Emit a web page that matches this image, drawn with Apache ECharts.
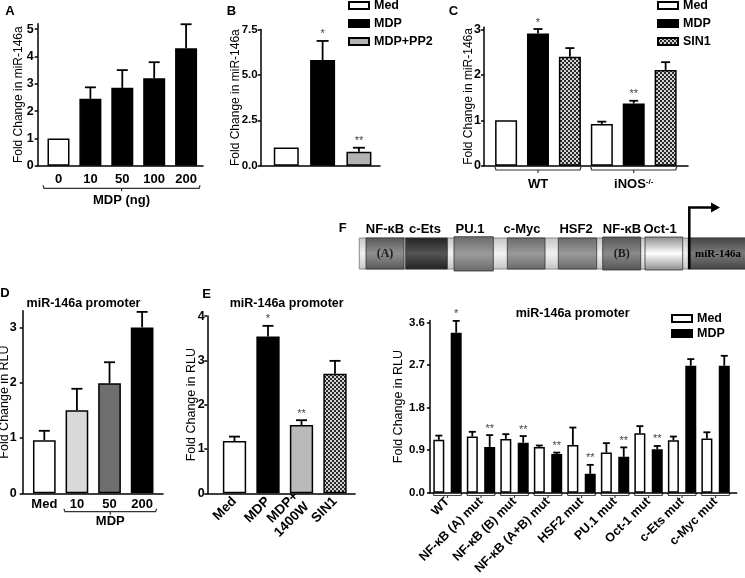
<!DOCTYPE html>
<html><head><meta charset="utf-8">
<script src="https://cdn.jsdelivr.net/npm/echarts@6/dist/echarts.min.js"></script>
<style>html,body{margin:0;padding:0;background:#fff}#c{width:745px;height:578px}</style>
</head><body><div id="c"></div>
<script>
const FONT = '"Liberation Sans", Arial, Helvetica, sans-serif';
const SERIF = '"Liberation Serif", "Times New Roman", serif';

// ---------- DATA ----------
// Panel A
const aCategories = ['0', '10', '50', '100', '200'];
const aValues = [1.0, 2.45, 2.85, 3.2, 4.3];
const aErrors = [0, 0.42, 0.65, 0.59, 0.88];
const aGroupLabel = 'MDP (ng)';
const aYTicks = [0, 1, 2, 3, 4, 5];
// Panel B
const bNames = ['Med', 'MDP', 'MDP+PP2'];
const bValues = [1.0, 5.82, 0.77];
const bErrors = [0, 1.05, 0.22];
const bStars = ['', '*', '**'];
const bYTicks = [0, 2.5, 5, 7.5];
// Panel C
const cGroups = ['WT', 'iNOS'];
const cGroupSup = ['', '-/-'];
const cNames = ['Med', 'MDP', 'SIN1'];
const cMed = [1.0, 0.92];
const cMedErr = [0, 0.05];
const cMDP = [2.91, 1.37];
const cMDPErr = [0.10, 0.06];
const cMDPStars = ['*', '**'];
const cSIN1 = [2.40, 2.11];
const cSIN1Err = [0.19, 0.17];
const cYTicks = [0, 1, 2, 3];
// Panel D
const dCategories = ['Med', '10', '50', '200'];
const dValues = [0.96, 1.50, 1.99, 3.00];
const dErrors = [0.17, 0.39, 0.38, 0.28];
const dGroupLabel = 'MDP';
const dYTicks = [0, 1, 2, 3];
// Panel E
const eCategories = ['Med', 'MDP', 'MDP+\n1400W', 'SIN1'];
const eValues = [1.18, 3.54, 1.54, 2.70];
const eErrors = [0.10, 0.24, 0.11, 0.29];
const eStars = ['', '*', '**', ''];
const eYTicks = [0, 1, 2, 3, 4];
// Panel F
const fCategories = ['WT', 'NF-κB (A) mut', 'NF-κB (B) mut', 'NF-κB (A+B) mut', 'HSF2 mut', 'PU.1 mut', 'Oct-1 mut', 'c-Ets mut', 'c-Myc mut'];
const fNames = ['Med', 'MDP'];
const fMed = [1.12, 1.19, 1.14, 0.97, 1.01, 0.85, 1.26, 1.11, 1.15];
const fMedErr = [0.09, 0.10, 0.10, 0.03, 0.37, 0.20, 0.15, 0.08, 0.13];
const fMDP = [3.39, 0.97, 1.06, 0.82, 0.40, 0.76, 0.92, 2.69, 2.69];
const fMDPErr = [0.25, 0.25, 0.14, 0.03, 0.19, 0.20, 0.07, 0.14, 0.21];
const fMDPStars = ['*', '**', '**', '**', '**', '**', '**', '', ''];
const fYTicks = [0, 0.9, 1.8, 2.7, 3.6];
const promoterTitle = 'miR-146a promoter';
const yTitleMiR = 'Fold Change in miR-146a';
const yTitleRLU = 'Fold Change in RLU';
// Promoter map labels
const siteLabels = ['NF-κB', 'c-Ets', 'PU.1', 'c-Myc', 'HSF2', 'NF-κB', 'Oct-1'];
const siteInner = ['(A)', '', '', '', '', '(B)', ''];
const geneLabel = 'miR-146a';

// ---------- STYLE / LAYOUT ----------
function makePattern() {
  const c = document.createElement('canvas'); c.width = 4; c.height = 4;
  const g = c.getContext('2d');
  g.fillStyle = '#d4d4d4'; g.fillRect(0, 0, 4, 4);
  g.fillStyle = '#2a2a2a'; g.fillRect(0, 0, 2, 2); g.fillRect(2, 2, 2, 2);
  return { image: c, repeat: 'repeat' };
}
const PAT = makePattern();
const WHITE = '#ffffff', BLACK = '#000000';
const aColors = [WHITE, BLACK, BLACK, BLACK, BLACK];
const bColors = [WHITE, BLACK, '#b3b3b3'];
const cColors = [WHITE, BLACK, PAT];
const dColors = [WHITE, '#d9d9d9', '#6e6e6e', BLACK];
const eColors = [WHITE, BLACK, '#bababa', PAT];
const fColors = [WHITE, BLACK];

const L = [
  { left: 37.7, top: 23.7, width: 165.3, height: 142, xmin: -0.652, xmax: 4.53, ymax: 5.2 },   // A
  { left: 260.7, top: 29.5, width: 119.3, height: 136.2, xmin: -0.704, xmax: 2.58, ymax: 7.5 }, // B
  { left: 484, top: 27.2, width: 204, height: 138.5, xmin: -0.564, xmax: 1.567, ymax: 3.05 },   // C
  { left: 22.7, top: 310.8, width: 140.3, height: 182.5, xmin: -0.663, xmax: 3.64, ymax: 3.3 }, // D
  { left: 207.3, top: 316.1, width: 147.8, height: 177.2, xmin: -0.812, xmax: 3.6, ymax: 4.0 }, // E
  { left: 430, top: 320.4, width: 306.7, height: 172.3, xmin: -0.522, xmax: 8.63, ymax: 3.65 }  // F
];

const idx = arr => arr.map((_, i) => i);

function xAxisFor(gi, labels, extra) {
  return {
    type: 'value', gridIndex: gi, min: L[gi].xmin, max: L[gi].xmax,
    axisLine: { show: true, onZero: false, lineStyle: { color: '#000', width: 1.5 } },
    axisTick: { show: false }, splitLine: { show: false },
    axisLabel: Object.assign({
      show: !!labels,
      customValues: labels ? idx(labels) : [],
      formatter: v => (labels ? labels[Math.round(v)] : ''),
      color: '#000', fontWeight: 'bold', fontSize: 13, fontFamily: FONT, margin: 7
    }, extra || {})
  };
}
function yAxisFor(gi, ticks, name, o) {
  return {
    type: 'value', gridIndex: gi, min: 0, max: L[gi].ymax,
    axisLine: { show: true, onZero: false, lineStyle: { color: '#000', width: 1.5 } },
    axisTick: { show: true, length: 3, customValues: ticks, lineStyle: { color: '#000', width: 1.5 } },
    axisLabel: { customValues: ticks, formatter: o.fmt || (v => String(v)), color: '#000', fontWeight: 'bold', fontSize: o.fs || 12.5, fontFamily: FONT, margin: o.margin },
    splitLine: { show: false },
    name: name, nameLocation: 'middle', nameGap: o.nameGap, nameRotate: 90, nameMoveOverlap: false,
    nameTextStyle: { color: '#000', fontSize: o.nfs || 12, fontFamily: FONT, fontWeight: 'normal' }
  };
}
function barSeries(gi, name, xs, vals, width, gap, colorFn) {
  return {
    type: 'bar', name: name, xAxisIndex: gi, yAxisIndex: gi,
    data: vals.map((v, i) => [xs[i], v]),
    barWidth: width, barGap: gap, z: 2,
    itemStyle: { color: colorFn, borderColor: '#000', borderWidth: 1.5 },
    animation: false
  };
}
function errSeries(gi, xs, vals, errs, stars, offPx, capPx) {
  return {
    type: 'custom', xAxisIndex: gi, yAxisIndex: gi, z: 10, silent: true, clip: false,
    data: vals.map((v, i) => [xs[i], v, errs[i]]),
    renderItem(params, api) {
      const x = api.value(0), v = api.value(1), e = api.value(2);
      const p0 = api.coord([x, v]);
      const p1 = api.coord([x, v + e]);
      const cx = p0[0] + offPx;
      const ch = [];
      if (e > 0) {
        ch.push({ type: 'line', shape: { x1: cx, y1: p0[1], x2: cx, y2: p1[1] }, style: { stroke: '#000', lineWidth: 1.8 } });
        ch.push({ type: 'line', shape: { x1: cx - capPx / 2, y1: p1[1], x2: cx + capPx / 2, y2: p1[1] }, style: { stroke: '#000', lineWidth: 1.8 } });
      }
      const s = stars ? stars[params.dataIndex] : '';
      if (s) ch.push({ type: 'text', x: cx, y: p1[1] - 1, style: { text: s, fill: '#444', fontSize: 11, fontFamily: FONT, align: 'center', verticalAlign: 'bottom' } });
      return { type: 'group', children: ch };
    }
  };
}

const legendText = { color: '#000', fontWeight: 'bold', fontSize: 12.5, fontFamily: FONT };
const option = {
  animation: false,
  textStyle: { fontFamily: FONT },
  grid: L.map(l => ({ left: l.left, top: l.top, width: l.width, height: l.height, containLabel: false, outerBoundsMode: 'none' })),
  xAxis: [
    xAxisFor(0, aCategories, { margin: 7 }),
    xAxisFor(1, null),
    xAxisFor(2, cGroups, {
      margin: 12,
      formatter: v => { const i = Math.round(v); return '{b|' + cGroups[i] + '}' + (cGroupSup[i] ? '{s|' + cGroupSup[i] + '}' : ''); },
      rich: { b: { fontWeight: 'bold', fontSize: 13, fontFamily: FONT, color: '#000' }, s: { fontWeight: 'bold', fontSize: 8, fontFamily: FONT, color: '#000', verticalAlign: 'top' } }
    }),
    xAxisFor(3, dCategories, { margin: 5 }),
    xAxisFor(4, eCategories, { rotate: 45, margin: 6, fontSize: 13.5, lineHeight: 15 }),
    xAxisFor(5, fCategories, { rotate: 45, margin: 7, fontSize: 12.5 })
  ],
  yAxis: [
    yAxisFor(0, aYTicks, yTitleMiR, { margin: 4, nameGap: 13 }),
    yAxisFor(1, bYTicks, yTitleMiR, { margin: 3, nameGap: 19, fs: 11.5, fmt: v => v.toFixed(1) }),
    yAxisFor(2, cYTicks, yTitleMiR, { margin: 3, nameGap: 9 }),
    yAxisFor(3, dYTicks, yTitleRLU, { margin: 6, nameGap: 11.5, nfs: 12.5 }),
    yAxisFor(4, eYTicks, yTitleRLU, { margin: 2.5, nameGap: 9, nfs: 12.5 }),
    yAxisFor(5, fYTicks, yTitleRLU, { margin: 5, nameGap: 25, nfs: 12.5, fs: 11.5, fmt: v => v.toFixed(1) })
  ],
  legend: [
    { data: bNames, orient: 'vertical', left: 348, top: -1, padding: 0, itemGap: 5, itemWidth: 20, itemHeight: 7, icon: 'rect', selectedMode: false, textStyle: legendText },
    { data: cNames, orient: 'vertical', left: 657, top: -1, padding: 0, itemGap: 5, itemWidth: 20, itemHeight: 7, icon: 'rect', selectedMode: false, textStyle: legendText },
    { data: fNames, orient: 'vertical', left: 671, top: 312, padding: 0, itemGap: 2, itemWidth: 20, itemHeight: 7, icon: 'rect', selectedMode: false, textStyle: legendText }
  ],
  series: []
};

const S = option.series;
// A
S.push(barSeries(0, 'A', idx(aValues), aValues, 22, '-100%', p => aColors[p.dataIndex]));
S.push(errSeries(0, idx(aValues), aValues, aErrors, null, 0, 11));
// B (one series per treatment so the legend can name them)
bNames.forEach((n, i) => {
  S.push(barSeries(1, n, [i], [bValues[i]], 25, '-100%', bColors[i]));
});
S.push(errSeries(1, idx(bValues), bValues, bErrors, bStars, 0, 12));
// C
const cVals = [cMed, cMDP, cSIN1], cErrs = [cMedErr, cMDPErr, cSIN1Err], cSt = [null, cMDPStars, null];
const cStep = 22 * 1.45;
cNames.forEach((n, k) => {
  S.push(barSeries(2, n, idx(cGroups), cVals[k], 22, '45%', cColors[k]));
});
cNames.forEach((n, k) => {
  S.push(errSeries(2, idx(cGroups), cVals[k], cErrs[k], cSt[k], (k - 1) * cStep, 9));
});
// D
S.push(barSeries(3, 'D', idx(dValues), dValues, 22.7, '-100%', p => dColors[p.dataIndex]));
S.push(errSeries(3, idx(dValues), dValues, dErrors, null, 0, 11));
// E
S.push(barSeries(4, 'E', idx(eValues), eValues, 23.3, '-100%', p => eColors[p.dataIndex]));
S.push(errSeries(4, idx(eValues), eValues, eErrors, eStars, 0, 11));
// F
const fStep = 11 * 1.58;
S.push(barSeries(5, 'Med', idx(fCategories), fMed, 11, '58%', fColors[0]));
S.push(barSeries(5, 'MDP', idx(fCategories), fMDP, 11, '58%', fColors[1]));
S.push(errSeries(5, idx(fCategories), fMed, fMedErr, null, -fStep / 2, 7));
S.push(errSeries(5, idx(fCategories), fMDP, fMDPErr, fMDPStars, fStep / 2, 7));

const chart = echarts.init(document.getElementById('c'), null, { renderer: 'canvas', width: 745, height: 578 });
chart.setOption(option);

// ---------- decorations (letters, titles, brackets, promoter map) ----------
const G = [];
function txt(x, y, text, size, weight, family, fill, align) {
  G.push({ type: 'text', x: x, y: y, silent: true, style: { text: text, fontSize: size, fontWeight: weight || 'bold', fontFamily: family || FONT, fill: fill || '#000', align: align || 'center', verticalAlign: 'middle', textAlign: align || 'center', textVerticalAlign: 'middle' } });
}
function px(gi, x, y) { return chart.convertToPixel({ gridIndex: gi }, [x, y || 0]); }
function bracket(xl, xr, y, hook, tick, color) {
  const c = color || '#333';
  G.push({ type: 'polyline', silent: true, shape: { points: [[xl, y - hook], [xl + 1, y], [xr - 1, y], [xr, y - hook]] }, style: { stroke: c, lineWidth: 1.2, fill: null } });
  const cx = (xl + xr) / 2;
  G.push({ type: 'line', silent: true, shape: { x1: cx, y1: y, x2: cx, y2: y + tick }, style: { stroke: c, lineWidth: 1.2 } });
}
// panel letters
txt(10, 11.5, 'A', 13); txt(231.5, 11.5, 'B', 13); txt(453.5, 11, 'C', 13);
txt(5, 293.5, 'D', 13); txt(206.5, 294, 'E', 13); txt(342.7, 228, 'F', 13);
// titles
txt(83.5, 303.3, promoterTitle, 12.5); txt(286.7, 303.3, promoterTitle, 12.5); txt(572.7, 314, promoterTitle, 12.5);
// A bracket
{
  const l = px(0, 0)[0] - 15.5, r = px(0, aCategories.length - 1)[0] + 14;
  bracket(l, r, 188.3, 3, 3);
  txt((l + r) / 2, 200, aGroupLabel, 13);
}
// C brackets
cGroups.forEach((g, i) => {
  const c = px(2, i)[0];
  bracket(c - 43, c + 43, 170, 3, 3);
});
// D bracket
{
  const l = px(3, 1)[0] - 13, r = px(3, dCategories.length - 1)[0] + 14.5;
  bracket(l, r, 511.7, 3, 3);
  txt((l + r) / 2, 521, dGroupLabel, 13);
}
// F brackets
fCategories.forEach((g, i) => {
  const c = px(5, i)[0];
  bracket(c - 14.5, c + 14.5, 495.5, 2.5, 2.5, '#444');
});
// promoter map
const grad = (a, b) => new echarts.graphic.LinearGradient(0, 0, 0, 1, [{ offset: 0, color: a }, { offset: 0.5, color: b }, { offset: 1, color: a }]);
G.push({ type: 'rect', silent: true, shape: { x: 359.3, y: 238, width: 390, height: 31 }, style: { fill: grad('#c4c4c4', '#f2f2f2'), stroke: '#8a8a8a', lineWidth: 1 } });
const boxes = [
  { x0: 366, x1: 404, y0: 238, y1: 269, a: '#5a5a5a', b: '#8f8f8f' },
  { x0: 405.7, x1: 447.3, y0: 238, y1: 269, a: '#222', b: '#555' },
  { x0: 454, x1: 493.3, y0: 236.7, y1: 271, a: '#6a6a6a', b: '#9c9c9c' },
  { x0: 507.3, x1: 545, y0: 238, y1: 269, a: '#6a6a6a', b: '#9a9a9a' },
  { x0: 558.3, x1: 596.7, y0: 238, y1: 269, a: '#6a6a6a', b: '#9a9a9a' },
  { x0: 602.7, x1: 640.7, y0: 237, y1: 270, a: '#555', b: '#8a8a8a' },
  { x0: 645, x1: 682.7, y0: 237, y1: 270, a: '#8a8a8a', b: '#ffffff' },
  { x0: 688.3, x1: 748, y0: 238, y1: 269, a: '#444', b: '#7a7a7a' }
];
boxes.forEach(b => {
  G.push({ type: 'rect', silent: true, shape: { x: b.x0, y: b.y0, width: b.x1 - b.x0, height: b.y1 - b.y0 }, style: { fill: grad(b.a, b.b), stroke: '#333', lineWidth: 0.8 } });
});
const siteX = [385, 425, 470, 522, 576, 622, 660];
siteLabels.forEach((s, i) => txt(siteX[i], 229, s, 13));
siteInner.forEach((s, i) => { if (s) txt((boxes[i].x0 + boxes[i].x1) / 2, 253.5, s, 12, 'bold', SERIF, '#1a1a1a'); });
txt(718, 254, geneLabel, 11, 'bold', SERIF, '#000');
// arrow
G.push({ type: 'polyline', silent: true, shape: { points: [[689.3, 269], [689.3, 207.5], [712, 207.5]] }, style: { stroke: '#000', lineWidth: 2.5, fill: null } });
G.push({ type: 'polygon', silent: true, shape: { points: [[711, 202.5], [720, 207.5], [711, 212.5]] }, style: { fill: '#000' } });

chart.setOption({ graphic: { elements: G } });
</script></body></html>
